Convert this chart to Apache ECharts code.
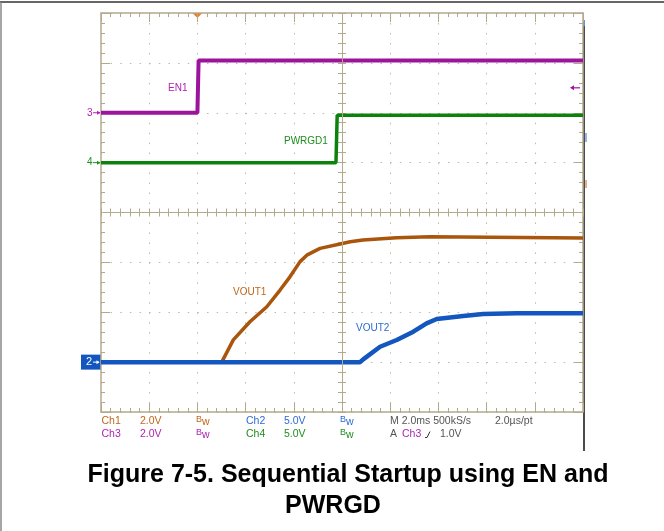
<!DOCTYPE html>
<html><head><meta charset="utf-8">
<script src="https://cdn.jsdelivr.net/npm/echarts@6/dist/echarts.min.js"></script>
<style>html,body{margin:0;padding:0;background:#fff}#c{width:664px;height:531px}</style>
</head><body><div id="c"></div>
<script>
// Oscilloscope: 10 horizontal divisions at 2.0 ms/div, trigger at t = 0
const timeMin = -4, timeMax = 16, timeStep = 2;
// 8 vertical divisions
const divMin = -4, divMax = 4;
// channel settings: volts per division and ground position (in divisions from centre)
const chNames = ['Ch1', 'Ch2', 'Ch3', 'Ch4'];
const chVoltsPerDiv = [2.0, 5.0, 2.0, 5.0];
const chGroundDiv = [-3, -3, 2, 1];

// Ch3: EN1 (V)
const en1Time = [-4, 0.0, 0.05, 16];
const en1Volt = [0, 0, 2.1, 2.1];
// Ch4: PWRGD1 (V)
const pgTime = [-4, 5.75, 5.8, 16];
const pgVolt = [0, 0, 4.75, 4.75];
// Ch1: VOUT1 (V)
const vout1Time = [-4, 1.01, 1.49, 2.18, 2.88, 3.43, 3.84, 4.26, 4.54, 5.09, 5.92, 6.34, 6.87, 8.27, 9.65, 16];
const vout1Volt = [0, 0, 0.89, 1.62, 2.22, 2.89, 3.42, 4.03, 4.29, 4.56, 4.74, 4.83, 4.90, 4.99, 5.03, 4.98];
// Ch2: VOUT2 (V)
const vout2Time = [-4, 6.75, 6.88, 7.58, 8.27, 8.96, 9.51, 9.93, 11.03, 11.86, 13.25, 16];
const vout2Volt = [0, 0, 0.28, 1.54, 2.22, 3.05, 3.89, 4.32, 4.62, 4.82, 4.89, 4.89];

const COL = { en: '#9c139c', pg: '#0b820b', v1: '#a9560c', v2: '#1456c0', grid: '#b3aa8c', dot: '#bfb8a2' };
const zip = (a, b) => a.map((v, i) => [v, b[i]]);

const chart = echarts.init(document.getElementById('c'), null, { renderer: 'canvas' });
const L = 101, T = 13, W = 482, H = 399;

function borderX(pos, split) {
  return {
    gridIndex: 0, type: 'value', position: pos, min: timeMin, max: timeMax, interval: timeStep,
    axisLine: { show: true, onZero: false, lineStyle: { color: COL.grid, width: 1.5 } },
    axisTick: { show: true, inside: true, length: 9, lineStyle: { color: COL.grid, width: 1 } },
    minorTick: { show: true, splitNumber: 5, length: 4, lineStyle: { color: COL.grid, width: 1 } },
    axisLabel: { show: false },
    splitLine: { show: split, lineStyle: { color: COL.dot, width: 1, type: [1.5, 8.475] } },
    minorSplitLine: { show: false }
  };
}
function borderY(pos, split) {
  return {
    gridIndex: 0, type: 'value', position: pos, min: divMin, max: divMax, interval: 1,
    axisLine: { show: true, onZero: false, lineStyle: { color: COL.grid, width: 1.5 } },
    axisTick: { show: true, inside: true, length: 9, lineStyle: { color: COL.grid, width: 1 } },
    minorTick: { show: true, splitNumber: 5, length: 4, lineStyle: { color: COL.grid, width: 1 } },
    axisLabel: { show: false },
    splitLine: { show: split, lineStyle: { color: COL.dot, width: 1, type: [1.5, 8.14] } }
  };
}
function chAxis(i) {
  const v = chVoltsPerDiv[i], g = chGroundDiv[i];
  return { gridIndex: 0, type: 'value', show: false, min: (divMin - g) * v, max: (divMax - g) * v };
}

const option = {
  animation: false,
  backgroundColor: '#fff',
  grid: [
    { left: L, top: T, width: W, height: H },
    { left: L, top: T + H / 2 - 4, width: W, height: 8 },
    { left: L + W / 2 - 4, top: T, width: 8, height: H }
  ],
  xAxis: [
    borderX('bottom', true),
    borderX('top', false),
    { gridIndex: 1, type: 'value', position: 'top', min: timeMin, max: timeMax, interval: timeStep,
      axisLine: { show: false, onZero: false }, axisLabel: { show: false }, splitLine: { show: false },
      axisTick: { show: true, inside: true, length: 8, lineStyle: { color: COL.grid } },
      minorTick: { show: true, splitNumber: 5, length: 8, lineStyle: { color: COL.grid } } },
    { gridIndex: 2, type: 'value', show: false, min: 0, max: 1, axisLine: { onZero: false } }
  ],
  yAxis: [
    borderY('left', true),
    borderY('right', false),
    chAxis(0), chAxis(1), chAxis(2), chAxis(3),
    { gridIndex: 1, type: 'value', show: false, min: 0, max: 1, axisLine: { onZero: false } },
    { gridIndex: 2, type: 'value', position: 'left', min: divMin, max: divMax, interval: 1,
      axisLine: { show: false, onZero: false }, axisLabel: { show: false }, splitLine: { show: false },
      axisTick: { show: true, inside: true, length: 8, lineStyle: { color: COL.grid } },
      minorTick: { show: true, splitNumber: 5, length: 8, lineStyle: { color: COL.grid } } }
  ],
  series: [
    { type: 'line', xAxisIndex: 0, yAxisIndex: 0, data: [], silent: true,
      markLine: { silent: true, symbol: ['none', 'none'], label: { show: false },
        lineStyle: { color: COL.grid, type: 'solid', width: 1 },
        data: [{ xAxis: (timeMin + timeMax) / 2 }, { yAxis: 0 }] } },
    { name: 'EN1', type: 'line', xAxisIndex: 0, yAxisIndex: 4, data: zip(en1Time, en1Volt), showSymbol: false,
      lineStyle: { color: COL.en, width: 4 } },
    { name: 'PWRGD1', type: 'line', xAxisIndex: 0, yAxisIndex: 5, data: zip(pgTime, pgVolt), showSymbol: false,
      lineStyle: { color: COL.pg, width: 3.5 } },
    { name: 'VOUT1', type: 'line', xAxisIndex: 0, yAxisIndex: 2, data: zip(vout1Time, vout1Volt), showSymbol: false,
      lineStyle: { color: COL.v1, width: 3.5 } },
    { name: 'VOUT2', type: 'line', xAxisIndex: 0, yAxisIndex: 3, data: zip(vout2Time, vout2Volt), showSymbol: false,
      lineStyle: { color: COL.v2, width: 4.5 } }
  ]
};
chart.setOption(option);

const px = (t, v, yi) => chart.convertToPixel({ xAxisIndex: 0, yAxisIndex: yi }, [t, v]);
const F = 'Liberation Sans, Arial, sans-serif';
function txt(x, y, s, color, size, align) {
  return { type: 'text', silent: true, style: { x, y, text: s, fill: color, font: (size || 10) + 'px ' + F,
    textAlign: align || 'left', textVerticalAlign: 'middle' } };
}
function bw(x, y, color) {
  return [txt(x, y - 2, 'B', color, 9), txt(x + 6, y + 1, 'w', color, 10.5)];
}
const g3 = px(0, 0, 4), g4 = px(0, 0, 5), g2 = px(0, 0, 3);
const trig = px(0, 1.0, 4);
const tx = px(0, 0, 0)[0];
const C = { o: '#c0661c', b: '#2c6bd4', p: '#b022b0', g: '#1e8e1e', k: '#555' };
const r1 = 421.5, r2 = 434.5;

const graphics = [
  // frame
  { type: 'line', silent: true, shape: { x1: 0, y1: 2, x2: 664, y2: 2 }, style: { stroke: '#333', lineWidth: 1.5 } },
  { type: 'line', silent: true, shape: { x1: 1, y1: 2, x2: 1, y2: 531 }, style: { stroke: '#888', lineWidth: 1.5 } },
  { type: 'line', silent: true, shape: { x1: 584, y1: 26, x2: 584, y2: 451 }, style: { stroke: '#111', lineWidth: 1.5 } },
  { type: 'line', silent: true, shape: { x1: 584, y1: 20, x2: 584, y2: 26 }, style: { stroke: '#2c6bd4', lineWidth: 1.5 } },
  { type: 'line', silent: true, shape: { x1: 586, y1: 133, x2: 586, y2: 142 }, style: { stroke: '#2c6bd4', lineWidth: 1 } },
  { type: 'line', silent: true, shape: { x1: 586, y1: 180, x2: 586, y2: 188 }, style: { stroke: '#c0661c', lineWidth: 1 } },
  // trigger position marker
  { type: 'polygon', silent: true, shape: { points: [[tx - 5, T], [tx + 5, T], [tx, T + 5]] }, style: { fill: '#f07a22' } },
  // trigger level arrow
  { type: 'line', silent: true, shape: { x1: 572, y1: trig[1], x2: 580, y2: trig[1] }, style: { stroke: COL.en, lineWidth: 1.2 } },
  { type: 'polygon', silent: true, shape: { points: [[570, trig[1]], [574, trig[1] - 2.5], [574, trig[1] + 2.5]] }, style: { fill: COL.en } },
  // ground markers
  txt(87, g3[1], '3', C.p, 10),
  { type: 'line', silent: true, shape: { x1: 93, y1: g3[1], x2: 100, y2: g3[1] }, style: { stroke: C.p, lineWidth: 1 } },
  { type: 'polygon', silent: true, shape: { points: [[97, g3[1] - 2], [100.5, g3[1]], [97, g3[1] + 2]] }, style: { fill: C.p } },
  txt(87, g4[1], '4', C.g, 10),
  { type: 'line', silent: true, shape: { x1: 93, y1: g4[1], x2: 100, y2: g4[1] }, style: { stroke: C.g, lineWidth: 1 } },
  { type: 'polygon', silent: true, shape: { points: [[97, g4[1] - 2], [100.5, g4[1]], [97, g4[1] + 2]] }, style: { fill: C.g } },
  { type: 'rect', silent: true, shape: { x: 81, y: g2[1] - 7.5, width: 20, height: 15 }, style: { fill: '#1456c0' } },
  txt(86, g2[1], '2', '#fff', 11),
  { type: 'line', silent: true, shape: { x1: 93, y1: g2[1], x2: 99, y2: g2[1] }, style: { stroke: '#fff', lineWidth: 1 } },
  { type: 'polygon', silent: true, shape: { points: [[96.5, g2[1] - 2], [99.5, g2[1]], [96.5, g2[1] + 2]] }, style: { fill: '#fff' } },
  // trace labels
  txt(168, 88, 'EN1', C.p, 10),
  txt(284, 141, 'PWRGD1', C.g, 10),
  txt(233, 292, 'VOUT1', C.o, 10),
  txt(356, 328, 'VOUT2', C.b, 10),
  // status rows
  txt(101.5, r1, 'Ch1', C.o, 10.5), txt(140, r1, '2.0V', C.o, 10.5), ...bw(196, r1, C.o),
  txt(246, r1, 'Ch2', C.b, 10.5), txt(284, r1, '5.0V', C.b, 10.5), ...bw(340, r1, C.b),
  txt(390, r1, 'M 2.0ms 500kS/s', C.k, 10.5), txt(495, r1, '2.0µs/pt', C.k, 10.5),
  txt(101.5, r2, 'Ch3', C.p, 10.5), txt(140, r2, '2.0V', C.p, 10.5), ...bw(196, r2, C.p),
  txt(246, r2, 'Ch4', C.g, 10.5), txt(284, r2, '5.0V', C.g, 10.5), ...bw(340, r2, C.g),
  txt(390, r2, 'A', C.k, 10.5), txt(402, r2, 'Ch3', C.p, 10.5),
  { type: 'polyline', silent: true, shape: { points: [[425, r2 + 3], [427, r2 + 3], [430, r2 - 3]] }, style: { stroke: '#333', lineWidth: 1, fill: null } },
  txt(440, r2, '1.0V', C.k, 10.5),
  // caption
  { type: 'text', silent: true, style: { x: 348, y: 475, text: 'Figure 7-5. Sequential Startup using EN and', fill: '#000',
      font: 'bold 25px ' + F, textAlign: 'center', textVerticalAlign: 'middle' } },
  { type: 'text', silent: true, style: { x: 333, y: 506, text: 'PWRGD', fill: '#000',
      font: 'bold 25px ' + F, textAlign: 'center', textVerticalAlign: 'middle' } }
];
chart.setOption({ graphic: graphics });
</script></body></html>
